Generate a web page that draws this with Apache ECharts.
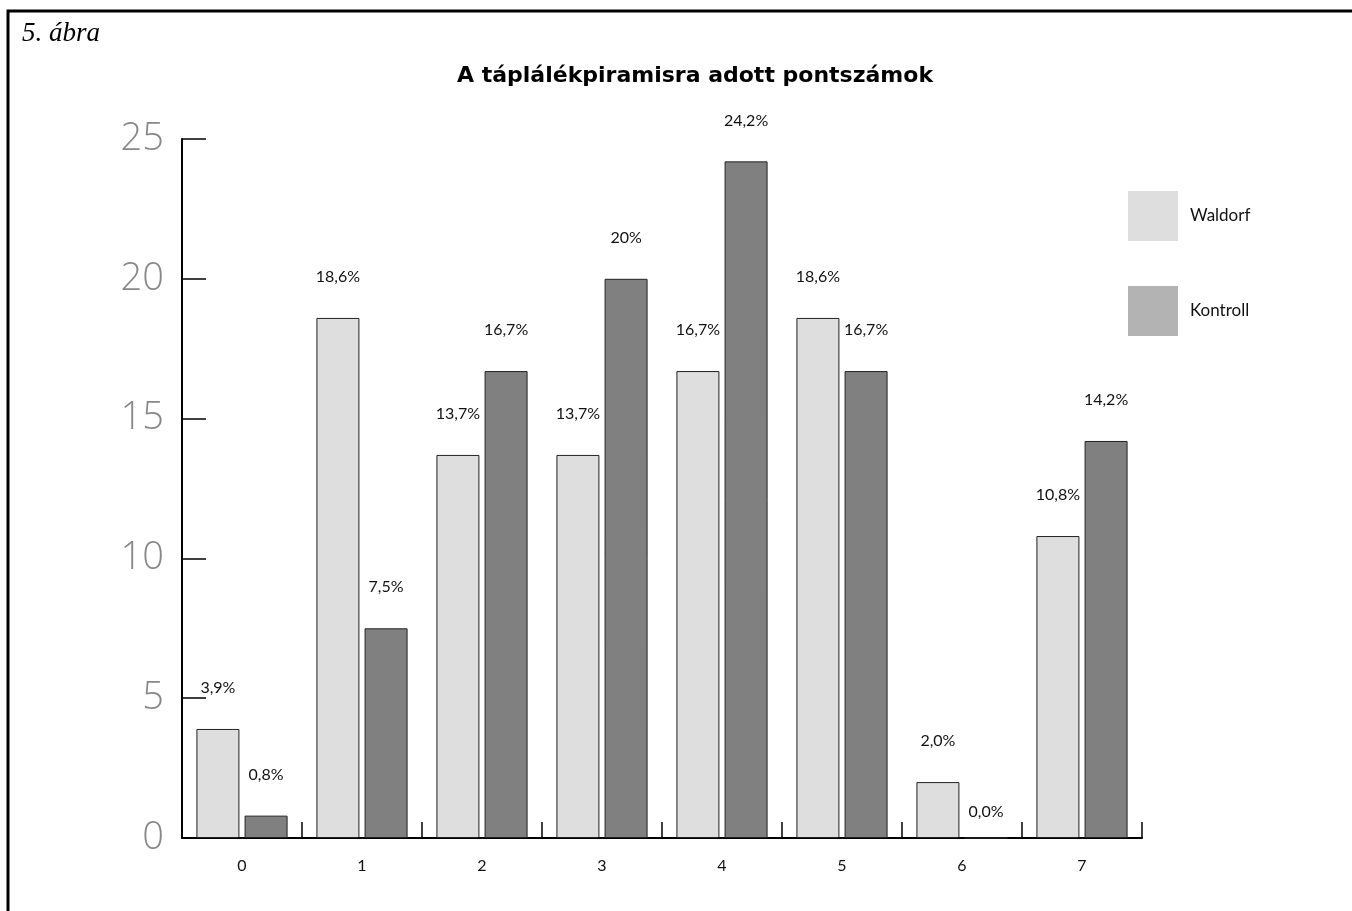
<!DOCTYPE html>
<html>
<head>
<meta charset="utf-8">
<title>A táplálékpiramisra adott pontszámok</title>
<script src="https://cdn.jsdelivr.net/npm/echarts@6/dist/echarts.min.js"></script>
<style>
  html, body { margin: 0; padding: 0; background: #fff; }
  #chart { width: 1352px; height: 911px; }
</style>
</head>
<body>
<div id="chart"></div>
<script>
// pontszámok (x tengely)
const categories = ['0', '1', '2', '3', '4', '5', '6', '7'];
// százalékok
const waldorf = [3.9, 18.6, 13.7, 13.7, 16.7, 18.6, 2.0, 10.8];
const kontroll = [0.8, 7.5, 16.7, 20, 24.2, 16.7, 0.0, 14.2];
// címkék úgy, ahogy az ábrán szerepelnek
const waldorfLabels = ['3,9%', '18,6%', '13,7%', '13,7%', '16,7%', '18,6%', '2,0%', '10,8%'];
const kontrollLabels = ['0,8%', '7,5%', '16,7%', '20%', '24,2%', '16,7%', '0,0%', '14,2%'];
const yTicks = [0, 5, 10, 15, 20, 25];

const chart = echarts.init(document.getElementById('chart'));

const labelStyle = {
  show: true,
  position: 'top',
  distance: 33,
  fontFamily: 'Lato',
  fontSize: 16,
  color: '#111'
};

// nulla értéknél a címke közelebb ül a tengelyhez
const withZeroLabel = arr => arr.map(v => (v === 0 ? { value: v, label: { distance: 18 } } : v));

const option = {
  animation: false,
  backgroundColor: '#fff',
  graphic: [
    // keret
    {
      type: 'rect',
      shape: { x: 8, y: 11, width: 1400, height: 1000 },
      style: { fill: 'none', stroke: '#000', lineWidth: 3 },
      silent: true
    },
    {
      type: 'text',
      left: 22,
      top: 20,
      style: {
        text: '5. ábra',
        font: 'italic 27px "Liberation Serif"',
        fill: '#000'
      }
    }
  ],
  title: {
    text: 'A táplálékpiramisra adott pontszámok',
    left: 690,
    textAlign: 'center',
    top: 60,
    textStyle: {
      fontFamily: 'DejaVu Sans',
      fontWeight: 'bold',
      fontSize: 22,
      color: '#000'
    }
  },
  legend: {
    orient: 'vertical',
    left: 1128,
    top: 191,
    padding: 0,
    itemWidth: 50,
    itemHeight: 50,
    itemGap: 45,
    icon: 'rect',
    textStyle: { fontFamily: 'Lato', fontSize: 17, color: '#111', padding: [0, 0, 0, 7] },
    data: [
      { name: 'Waldorf', itemStyle: { color: '#dedede', borderWidth: 0 } },
      { name: 'Kontroll', itemStyle: { color: '#b3b3b3', borderWidth: 0 } }
    ]
  },
  grid: {
    left: 182,
    right: 210,
    top: 139,
    bottom: 73
  },
  xAxis: {
    type: 'category',
    data: categories,
    axisLine: { show: true, lineStyle: { color: '#000', width: 2 } },
    axisTick: { show: true, inside: true, length: 16, alignWithLabel: false, lineStyle: { color: '#000', width: 1.5 } },
    axisLabel: { margin: 20, fontFamily: 'Lato', fontSize: 16, color: '#111' },
    splitLine: { show: false }
  },
  yAxis: {
    type: 'value',
    min: 0,
    max: 25,
    interval: 5,
    axisLine: { show: true, lineStyle: { color: '#000', width: 2 } },
    axisTick: { show: true, inside: true, length: 24, lineStyle: { color: '#000', width: 1.5 } },
    axisLabel: {
      margin: 18,
      fontFamily: 'Open Sans',
      fontWeight: 300,
      fontSize: 38,
      color: '#888',
      formatter: v => (yTicks.includes(v) ? String(v) : '')
    },
    splitLine: { show: false }
  },
  series: [
    {
      name: 'Waldorf',
      type: 'bar',
      barWidth: 43,
      barGap: '12%',
      itemStyle: { color: '#dedede', borderColor: '#222', borderWidth: 1 },
      label: Object.assign({}, labelStyle, {
        formatter: p => waldorfLabels[p.dataIndex]
      }),
      data: withZeroLabel(waldorf)
    },
    {
      name: 'Kontroll',
      type: 'bar',
      barWidth: 43,
      barGap: '12%',
      itemStyle: { color: '#808080', borderColor: '#222', borderWidth: 1 },
      label: Object.assign({}, labelStyle, {
        formatter: p => kontrollLabels[p.dataIndex]
      }),
      data: withZeroLabel(kontroll)
    }
  ]
};

chart.setOption(option);
</script>
</body>
</html>
